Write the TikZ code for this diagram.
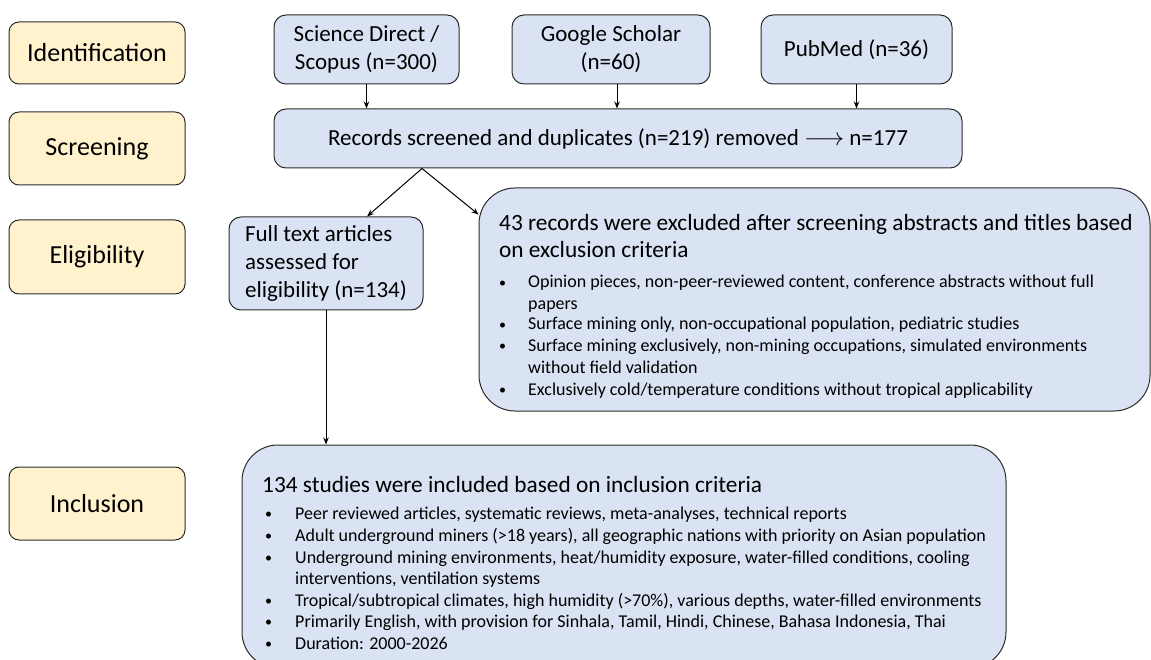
\documentclass[tikz,border=0pt]{standalone}
\usepackage{fontspec}
\setmainfont{Carlito}
\usetikzlibrary{arrows.meta}
\definecolor{boxblue}{HTML}{DAE3F3}
\definecolor{stageyellow}{HTML}{FFF2CC}
\definecolor{edgecol}{HTML}{2B2B2B}
\newcommand{\smallbul}{\raisebox{1pt}{\fontsize{14}{14}\selectfont\textbullet}}
\newcommand{\exb}[1]{\makebox[29pt][l]{\smallbul}#1}
\newcommand{\exc}[1]{\hspace*{29pt}#1}
\newcommand{\inb}[1]{\makebox[30pt][l]{\smallbul}#1}
\newcommand{\inc}[1]{\hspace*{30pt}#1}
\tikzset{
  stagebox/.style={draw=edgecol, fill=stageyellow, rounded corners=10pt, line width=1pt,
    minimum width=176pt, inner sep=0pt, font=\fontsize{26}{30}\selectfont},
  bluebox/.style={draw=edgecol, fill=boxblue, rounded corners=12pt, line width=1pt,
    inner sep=0pt, align=center, font=\fontsize{23}{28}\selectfont},
  bigbox/.style={bluebox, rounded corners=36pt},
  headline/.style={anchor=base west, inner sep=0pt, font=\fontsize{23.3}{27}\selectfont},
  bulline/.style={anchor=base west, inner sep=0pt, font=\fontsize{18}{21.5}\selectfont},
  arr/.style={-{Stealth[length=7pt,width=5.5pt]}, line width=1pt, draw=black}
}
\begin{document}
\begin{tikzpicture}[x=1pt,y=-1pt]
\useasboundingbox (0,0) rectangle (1151,660);
\clip (0,0) rectangle (1151,660);

% stage labels
\node[stagebox, minimum height=62pt] (ident) at (97,53) {Identification};
\node[stagebox, minimum height=73pt] (screen) at (97,148.5) {Screening};
\node[stagebox, minimum height=74pt] (elig) at (97,257) {Eligibility};
\node[stagebox, minimum height=73pt] (incl) at (97,503.5) {Inclusion};

% sources
\node[bluebox, minimum width=185pt, minimum height=69pt] (sd) at (366.5,49.5) {Science Direct /\\Scopus (n=300)};
\node[bluebox, minimum width=198pt, minimum height=69pt] (gs) at (611,49.5) {Google Scholar\\(n=60)};
\node[bluebox, minimum width=191pt, minimum height=69pt] (pm) at (856.5,49.5) {PubMed (n=36)};

% screening
\node[bluebox, minimum width=688pt, minimum height=59pt] (rec) at (618,138.5)
  {Records screened and duplicates (n=219) removed $\longrightarrow$ n=177};

% full text
\node[bluebox, minimum width=194pt, minimum height=93pt, align=left] (ft) at (326,263.5)
  {Full text articles\\assessed for\\eligibility (n=134)};

% exclusion
\node[bigbox, minimum width=671pt, minimum height=223pt] (excl) at (814.5,299.5) {};
\node[headline] (ex1) at (499,231) {43 records were excluded after screening abstracts and titles based};
\node[headline] (ex2) at (499,258) {on exclusion criteria};
\node[bulline] (eb1) at (499,288) {\exb{Opinion pieces, non-peer-reviewed content, conference abstracts without full}};
\node[bulline] (eb1c) at (499,309) {\exc{papers}};
\node[bulline] (eb2) at (499,330) {\exb{Surface mining only, non-occupational population, pediatric studies}};
\node[bulline] (eb3) at (499,351) {\exb{Surface mining exclusively, non-mining occupations, simulated environments}};
\node[bulline] (eb3c) at (499,373) {\exc{without field validation}};
\node[bulline] (eb4) at (499,395) {\exb{Exclusively cold/temperature conditions without tropical applicability}};

% inclusion
\node[bigbox, minimum width=764pt, minimum height=223pt] (inclbox) at (624,556.5) {};
\node[headline] (in1) at (262,492) {134 studies were included based on inclusion criteria};
\node[bulline] (ib1) at (265,519) {\inb{Peer reviewed articles, systematic reviews, meta-analyses, technical reports}};
\node[bulline] (ib2) at (265,541) {\inb{Adult underground miners (>18 years), all geographic nations with priority on Asian population}};
\node[bulline] (ib3) at (265,563) {\inb{Underground mining environments, heat/humidity exposure, water-filled conditions, cooling}};
\node[bulline] (ib3c) at (265,584) {\inc{interventions, ventilation systems}};
\node[bulline] (ib4) at (265,606) {\inb{Tropical/subtropical climates, high humidity (>70\%), various depths, water-filled environments}};
\node[bulline] (ib5) at (265,627) {\inb{Primarily English, with provision for Sinhala, Tamil, Hindi, Chinese, Bahasa Indonesia, Thai}};
\node[bulline] (ib6) at (265,649) {\inb{Duration: 2000-2026}};

% connectors
\draw[arr] (sd.south) -- (sd.south |- rec.north);
\draw[arr] ([xshift=6pt]gs.south) -- ([xshift=6pt]gs.south |- rec.north);
\draw[arr] (pm.south) -- (pm.south |- rec.north);
\coordinate (split) at ([xshift=-196pt]rec.south);
\draw[arr] (split) -- ([xshift=41pt]ft.north);
\draw[arr] (split) -- ([yshift=-27pt]excl.north west);
\draw[arr] (ft.south) -- (ft.south |- inclbox.north);
\end{tikzpicture}
\end{document}
